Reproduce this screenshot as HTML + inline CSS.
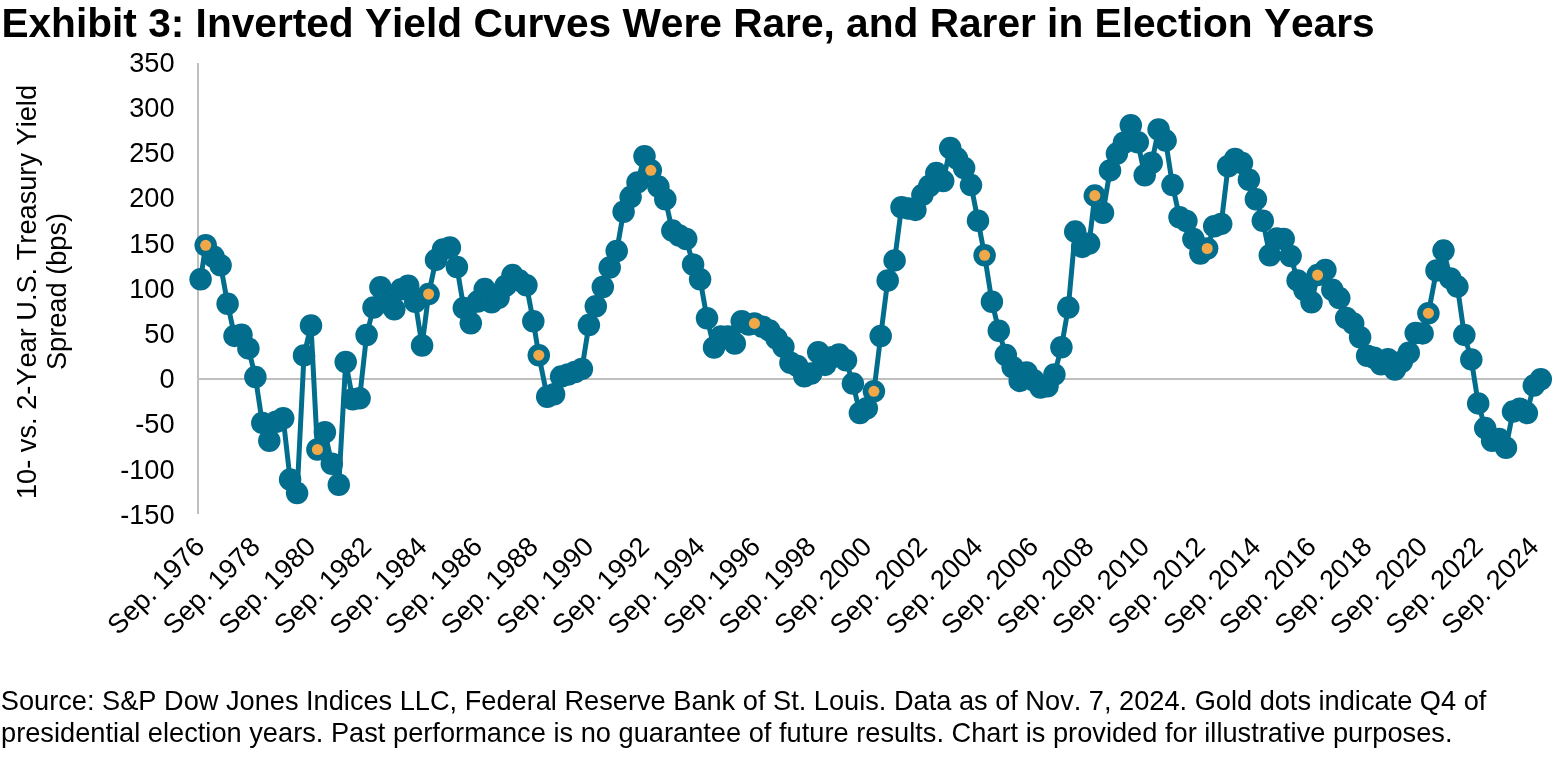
<!DOCTYPE html>
<html lang="en"><head><meta charset="utf-8"><title>Exhibit 3</title>
<style>
html,body{margin:0;padding:0;background:#fff}
body{width:1557px;height:763px;overflow:hidden;font-family:"Liberation Sans",sans-serif;color:#000}
svg{display:block}
svg text{font-family:"Liberation Sans",sans-serif;fill:#000;font-kerning:none}
</style></head><body>
<svg width="1557" height="763" viewBox="0 0 1557 763">
<rect width="1557" height="763" fill="#fff"/>
<text x="1.4" y="37.2" font-size="40.65" font-weight="700">Exhibit 3: Inverted Yield Curves Were Rare, and Rarer in Election Years</text>
<rect x="197" y="63" width="2" height="451" fill="#BEC0BE"/>
<rect x="197" y="378" width="1343" height="2" fill="#BEC0BE"/>
<text x="174.6" y="71.8" font-size="27.2" text-anchor="end">350</text>
<text x="174.6" y="117.0" font-size="27.2" text-anchor="end">300</text>
<text x="174.6" y="162.2" font-size="27.2" text-anchor="end">250</text>
<text x="174.6" y="207.4" font-size="27.2" text-anchor="end">200</text>
<text x="174.6" y="252.6" font-size="27.2" text-anchor="end">150</text>
<text x="174.6" y="297.8" font-size="27.2" text-anchor="end">100</text>
<text x="174.6" y="342.9" font-size="27.2" text-anchor="end">50</text>
<text x="174.6" y="388.1" font-size="27.2" text-anchor="end">0</text>
<text x="174.6" y="433.3" font-size="27.2" text-anchor="end">-50</text>
<text x="174.6" y="478.5" font-size="27.2" text-anchor="end">-100</text>
<text x="174.6" y="523.7" font-size="27.2" text-anchor="end">-150</text>
<text transform="translate(36,292) rotate(-90)" font-size="27.2" text-anchor="middle">10- vs. 2-Year U.S. Treasury Yield</text>
<text transform="translate(65.7,291.5) rotate(-90)" font-size="27.2" text-anchor="middle">Spread (bps)</text>
<text transform="translate(206.1,548.4) rotate(-45)" font-size="27.2" text-anchor="end">Sep. 1976</text>
<text transform="translate(261.7,548.4) rotate(-45)" font-size="27.2" text-anchor="end">Sep. 1978</text>
<text transform="translate(317.3,548.4) rotate(-45)" font-size="27.2" text-anchor="end">Sep. 1980</text>
<text transform="translate(372.9,548.4) rotate(-45)" font-size="27.2" text-anchor="end">Sep. 1982</text>
<text transform="translate(428.4,548.4) rotate(-45)" font-size="27.2" text-anchor="end">Sep. 1984</text>
<text transform="translate(484.0,548.4) rotate(-45)" font-size="27.2" text-anchor="end">Sep. 1986</text>
<text transform="translate(539.6,548.4) rotate(-45)" font-size="27.2" text-anchor="end">Sep. 1988</text>
<text transform="translate(595.2,548.4) rotate(-45)" font-size="27.2" text-anchor="end">Sep. 1990</text>
<text transform="translate(650.8,548.4) rotate(-45)" font-size="27.2" text-anchor="end">Sep. 1992</text>
<text transform="translate(706.4,548.4) rotate(-45)" font-size="27.2" text-anchor="end">Sep. 1994</text>
<text transform="translate(761.9,548.4) rotate(-45)" font-size="27.2" text-anchor="end">Sep. 1996</text>
<text transform="translate(817.5,548.4) rotate(-45)" font-size="27.2" text-anchor="end">Sep. 1998</text>
<text transform="translate(873.1,548.4) rotate(-45)" font-size="27.2" text-anchor="end">Sep. 2000</text>
<text transform="translate(928.7,548.4) rotate(-45)" font-size="27.2" text-anchor="end">Sep. 2002</text>
<text transform="translate(984.3,548.4) rotate(-45)" font-size="27.2" text-anchor="end">Sep. 2004</text>
<text transform="translate(1039.9,548.4) rotate(-45)" font-size="27.2" text-anchor="end">Sep. 2006</text>
<text transform="translate(1095.4,548.4) rotate(-45)" font-size="27.2" text-anchor="end">Sep. 2008</text>
<text transform="translate(1151.0,548.4) rotate(-45)" font-size="27.2" text-anchor="end">Sep. 2010</text>
<text transform="translate(1206.6,548.4) rotate(-45)" font-size="27.2" text-anchor="end">Sep. 2012</text>
<text transform="translate(1262.2,548.4) rotate(-45)" font-size="27.2" text-anchor="end">Sep. 2014</text>
<text transform="translate(1317.8,548.4) rotate(-45)" font-size="27.2" text-anchor="end">Sep. 2016</text>
<text transform="translate(1373.4,548.4) rotate(-45)" font-size="27.2" text-anchor="end">Sep. 2018</text>
<text transform="translate(1428.9,548.4) rotate(-45)" font-size="27.2" text-anchor="end">Sep. 2020</text>
<text transform="translate(1484.5,548.4) rotate(-45)" font-size="27.2" text-anchor="end">Sep. 2022</text>
<text transform="translate(1540.1,548.4) rotate(-45)" font-size="27.2" text-anchor="end">Sep. 2024</text>
<polyline points="200.6,279.3 205.7,245.3 213.7,256.8 220.6,265.2 227.6,303.8 234.5,335.9 241.5,334.8 248.4,348.4 255.4,377.0 262.3,422.9 269.3,440.7 276.2,421.8 283.2,418.3 290.1,479.5 297.1,493.1 304.0,355.4 311.0,325.4 317.4,449.5 324.9,432.3 331.8,463.8 338.8,484.7 345.7,362.0 352.7,399.2 359.6,398.2 366.6,335.0 373.5,307.5 380.4,287.2 387.4,302.9 394.3,309.2 401.3,289.3 408.2,285.7 415.2,301.8 422.1,345.5 428.6,294.1 436.0,259.9 443.0,249.4 449.9,247.5 456.9,267.0 463.8,308.0 470.8,323.2 477.7,301.6 484.7,289.1 491.6,302.3 498.6,297.7 505.5,285.9 512.5,275.1 519.4,280.6 526.4,285.2 533.3,321.3 538.8,355.2 547.2,396.7 554.1,394.3 561.1,376.6 568.0,374.5 575.0,372.1 581.9,368.9 588.9,325.1 595.8,306.2 602.8,287.0 609.7,267.5 616.7,251.0 623.6,211.8 630.6,197.1 637.5,182.4 644.5,156.2 650.8,170.3 658.4,186.6 665.3,199.2 672.3,230.6 679.2,235.5 686.2,239.0 693.1,264.5 700.1,279.3 707.0,318.2 714.0,347.5 720.9,336.5 727.8,336.5 734.8,343.5 741.7,321.3 748.7,324.5 754.4,323.4 762.6,326.7 769.5,330.6 776.5,338.5 783.4,346.7 790.4,362.7 797.3,365.9 804.3,376.2 811.2,373.5 818.2,352.2 825.1,364.9 832.1,357.3 839.0,354.6 846.0,360.3 852.9,383.6 859.9,413.0 866.8,408.3 873.9,391.3 880.7,336.0 887.7,280.5 894.6,260.4 901.5,207.3 908.5,208.6 915.4,209.9 922.4,194.9 929.3,186.0 936.3,173.1 943.2,181.0 950.2,148.0 957.1,158.6 964.1,168.0 971.0,185.1 978.0,220.8 984.6,255.3 991.9,301.7 998.8,330.7 1005.8,355.0 1012.7,367.2 1019.7,380.9 1026.6,372.4 1033.6,380.3 1040.5,387.5 1047.5,386.2 1054.4,374.5 1061.4,347.2 1068.3,307.6 1075.2,231.6 1082.2,246.9 1089.1,243.6 1094.8,195.6 1103.0,212.8 1110.0,170.4 1116.9,153.6 1123.9,142.7 1130.8,125.3 1137.8,142.3 1144.7,175.2 1151.7,162.7 1158.6,129.5 1165.6,140.6 1172.5,185.1 1179.5,217.2 1186.4,221.0 1193.4,239.0 1200.3,253.5 1207.2,248.5 1214.2,226.3 1221.2,223.9 1228.1,166.2 1235.1,158.9 1242.0,163.1 1248.9,179.8 1255.9,199.3 1262.8,220.7 1269.8,255.3 1276.7,238.5 1283.7,239.0 1290.6,256.0 1297.6,280.4 1304.5,290.0 1311.5,302.3 1317.6,275.1 1325.4,269.9 1332.3,289.8 1339.3,298.1 1346.2,318.0 1353.2,323.5 1360.1,337.2 1367.1,355.7 1374.0,357.8 1381.0,364.2 1387.9,359.3 1394.9,369.5 1401.8,361.8 1408.8,352.8 1415.7,333.0 1422.6,333.4 1428.4,313.2 1436.5,270.5 1443.5,250.6 1450.4,278.4 1457.4,286.6 1464.3,334.9 1471.3,359.4 1478.2,403.4 1485.2,428.1 1492.1,440.7 1499.1,439.1 1506.0,447.7 1513.0,411.6 1519.9,408.8 1526.9,413.1 1533.8,385.6 1540.8,379.3" fill="none" stroke="#026D8C" stroke-width="5" stroke-linejoin="round" stroke-linecap="round"/>
<g fill="#026D8C">
<circle cx="200.6" cy="279.3" r="11.25"/><circle cx="205.7" cy="245.3" r="11.25"/><circle cx="213.7" cy="256.8" r="11.25"/><circle cx="220.6" cy="265.2" r="11.25"/><circle cx="227.6" cy="303.8" r="11.25"/><circle cx="234.5" cy="335.9" r="11.25"/><circle cx="241.5" cy="334.8" r="11.25"/><circle cx="248.4" cy="348.4" r="11.25"/><circle cx="255.4" cy="377.0" r="11.25"/><circle cx="262.3" cy="422.9" r="11.25"/><circle cx="269.3" cy="440.7" r="11.25"/><circle cx="276.2" cy="421.8" r="11.25"/><circle cx="283.2" cy="418.3" r="11.25"/><circle cx="290.1" cy="479.5" r="11.25"/><circle cx="297.1" cy="493.1" r="11.25"/><circle cx="304.0" cy="355.4" r="11.25"/><circle cx="311.0" cy="325.4" r="11.25"/><circle cx="317.4" cy="449.5" r="11.25"/><circle cx="324.9" cy="432.3" r="11.25"/><circle cx="331.8" cy="463.8" r="11.25"/><circle cx="338.8" cy="484.7" r="11.25"/><circle cx="345.7" cy="362.0" r="11.25"/><circle cx="352.7" cy="399.2" r="11.25"/><circle cx="359.6" cy="398.2" r="11.25"/><circle cx="366.6" cy="335.0" r="11.25"/><circle cx="373.5" cy="307.5" r="11.25"/><circle cx="380.4" cy="287.2" r="11.25"/><circle cx="387.4" cy="302.9" r="11.25"/><circle cx="394.3" cy="309.2" r="11.25"/><circle cx="401.3" cy="289.3" r="11.25"/><circle cx="408.2" cy="285.7" r="11.25"/><circle cx="415.2" cy="301.8" r="11.25"/><circle cx="422.1" cy="345.5" r="11.25"/><circle cx="428.6" cy="294.1" r="11.25"/><circle cx="436.0" cy="259.9" r="11.25"/><circle cx="443.0" cy="249.4" r="11.25"/><circle cx="449.9" cy="247.5" r="11.25"/><circle cx="456.9" cy="267.0" r="11.25"/><circle cx="463.8" cy="308.0" r="11.25"/><circle cx="470.8" cy="323.2" r="11.25"/><circle cx="477.7" cy="301.6" r="11.25"/><circle cx="484.7" cy="289.1" r="11.25"/><circle cx="491.6" cy="302.3" r="11.25"/><circle cx="498.6" cy="297.7" r="11.25"/><circle cx="505.5" cy="285.9" r="11.25"/><circle cx="512.5" cy="275.1" r="11.25"/><circle cx="519.4" cy="280.6" r="11.25"/><circle cx="526.4" cy="285.2" r="11.25"/><circle cx="533.3" cy="321.3" r="11.25"/><circle cx="538.8" cy="355.2" r="11.25"/><circle cx="547.2" cy="396.7" r="11.25"/><circle cx="554.1" cy="394.3" r="11.25"/><circle cx="561.1" cy="376.6" r="11.25"/><circle cx="568.0" cy="374.5" r="11.25"/><circle cx="575.0" cy="372.1" r="11.25"/><circle cx="581.9" cy="368.9" r="11.25"/><circle cx="588.9" cy="325.1" r="11.25"/><circle cx="595.8" cy="306.2" r="11.25"/><circle cx="602.8" cy="287.0" r="11.25"/><circle cx="609.7" cy="267.5" r="11.25"/><circle cx="616.7" cy="251.0" r="11.25"/><circle cx="623.6" cy="211.8" r="11.25"/><circle cx="630.6" cy="197.1" r="11.25"/><circle cx="637.5" cy="182.4" r="11.25"/><circle cx="644.5" cy="156.2" r="11.25"/><circle cx="650.8" cy="170.3" r="11.25"/><circle cx="658.4" cy="186.6" r="11.25"/><circle cx="665.3" cy="199.2" r="11.25"/><circle cx="672.3" cy="230.6" r="11.25"/><circle cx="679.2" cy="235.5" r="11.25"/><circle cx="686.2" cy="239.0" r="11.25"/><circle cx="693.1" cy="264.5" r="11.25"/><circle cx="700.1" cy="279.3" r="11.25"/><circle cx="707.0" cy="318.2" r="11.25"/><circle cx="714.0" cy="347.5" r="11.25"/><circle cx="720.9" cy="336.5" r="11.25"/><circle cx="727.8" cy="336.5" r="11.25"/><circle cx="734.8" cy="343.5" r="11.25"/><circle cx="741.7" cy="321.3" r="11.25"/><circle cx="748.7" cy="324.5" r="11.25"/><circle cx="754.4" cy="323.4" r="11.25"/><circle cx="762.6" cy="326.7" r="11.25"/><circle cx="769.5" cy="330.6" r="11.25"/><circle cx="776.5" cy="338.5" r="11.25"/><circle cx="783.4" cy="346.7" r="11.25"/><circle cx="790.4" cy="362.7" r="11.25"/><circle cx="797.3" cy="365.9" r="11.25"/><circle cx="804.3" cy="376.2" r="11.25"/><circle cx="811.2" cy="373.5" r="11.25"/><circle cx="818.2" cy="352.2" r="11.25"/><circle cx="825.1" cy="364.9" r="11.25"/><circle cx="832.1" cy="357.3" r="11.25"/><circle cx="839.0" cy="354.6" r="11.25"/><circle cx="846.0" cy="360.3" r="11.25"/><circle cx="852.9" cy="383.6" r="11.25"/><circle cx="859.9" cy="413.0" r="11.25"/><circle cx="866.8" cy="408.3" r="11.25"/><circle cx="873.9" cy="391.3" r="11.25"/><circle cx="880.7" cy="336.0" r="11.25"/><circle cx="887.7" cy="280.5" r="11.25"/><circle cx="894.6" cy="260.4" r="11.25"/><circle cx="901.5" cy="207.3" r="11.25"/><circle cx="908.5" cy="208.6" r="11.25"/><circle cx="915.4" cy="209.9" r="11.25"/><circle cx="922.4" cy="194.9" r="11.25"/><circle cx="929.3" cy="186.0" r="11.25"/><circle cx="936.3" cy="173.1" r="11.25"/><circle cx="943.2" cy="181.0" r="11.25"/><circle cx="950.2" cy="148.0" r="11.25"/><circle cx="957.1" cy="158.6" r="11.25"/><circle cx="964.1" cy="168.0" r="11.25"/><circle cx="971.0" cy="185.1" r="11.25"/><circle cx="978.0" cy="220.8" r="11.25"/><circle cx="984.6" cy="255.3" r="11.25"/><circle cx="991.9" cy="301.7" r="11.25"/><circle cx="998.8" cy="330.7" r="11.25"/><circle cx="1005.8" cy="355.0" r="11.25"/><circle cx="1012.7" cy="367.2" r="11.25"/><circle cx="1019.7" cy="380.9" r="11.25"/><circle cx="1026.6" cy="372.4" r="11.25"/><circle cx="1033.6" cy="380.3" r="11.25"/><circle cx="1040.5" cy="387.5" r="11.25"/><circle cx="1047.5" cy="386.2" r="11.25"/><circle cx="1054.4" cy="374.5" r="11.25"/><circle cx="1061.4" cy="347.2" r="11.25"/><circle cx="1068.3" cy="307.6" r="11.25"/><circle cx="1075.2" cy="231.6" r="11.25"/><circle cx="1082.2" cy="246.9" r="11.25"/><circle cx="1089.1" cy="243.6" r="11.25"/><circle cx="1094.8" cy="195.6" r="11.25"/><circle cx="1103.0" cy="212.8" r="11.25"/><circle cx="1110.0" cy="170.4" r="11.25"/><circle cx="1116.9" cy="153.6" r="11.25"/><circle cx="1123.9" cy="142.7" r="11.25"/><circle cx="1130.8" cy="125.3" r="11.25"/><circle cx="1137.8" cy="142.3" r="11.25"/><circle cx="1144.7" cy="175.2" r="11.25"/><circle cx="1151.7" cy="162.7" r="11.25"/><circle cx="1158.6" cy="129.5" r="11.25"/><circle cx="1165.6" cy="140.6" r="11.25"/><circle cx="1172.5" cy="185.1" r="11.25"/><circle cx="1179.5" cy="217.2" r="11.25"/><circle cx="1186.4" cy="221.0" r="11.25"/><circle cx="1193.4" cy="239.0" r="11.25"/><circle cx="1200.3" cy="253.5" r="11.25"/><circle cx="1207.2" cy="248.5" r="11.25"/><circle cx="1214.2" cy="226.3" r="11.25"/><circle cx="1221.2" cy="223.9" r="11.25"/><circle cx="1228.1" cy="166.2" r="11.25"/><circle cx="1235.1" cy="158.9" r="11.25"/><circle cx="1242.0" cy="163.1" r="11.25"/><circle cx="1248.9" cy="179.8" r="11.25"/><circle cx="1255.9" cy="199.3" r="11.25"/><circle cx="1262.8" cy="220.7" r="11.25"/><circle cx="1269.8" cy="255.3" r="11.25"/><circle cx="1276.7" cy="238.5" r="11.25"/><circle cx="1283.7" cy="239.0" r="11.25"/><circle cx="1290.6" cy="256.0" r="11.25"/><circle cx="1297.6" cy="280.4" r="11.25"/><circle cx="1304.5" cy="290.0" r="11.25"/><circle cx="1311.5" cy="302.3" r="11.25"/><circle cx="1317.6" cy="275.1" r="11.25"/><circle cx="1325.4" cy="269.9" r="11.25"/><circle cx="1332.3" cy="289.8" r="11.25"/><circle cx="1339.3" cy="298.1" r="11.25"/><circle cx="1346.2" cy="318.0" r="11.25"/><circle cx="1353.2" cy="323.5" r="11.25"/><circle cx="1360.1" cy="337.2" r="11.25"/><circle cx="1367.1" cy="355.7" r="11.25"/><circle cx="1374.0" cy="357.8" r="11.25"/><circle cx="1381.0" cy="364.2" r="11.25"/><circle cx="1387.9" cy="359.3" r="11.25"/><circle cx="1394.9" cy="369.5" r="11.25"/><circle cx="1401.8" cy="361.8" r="11.25"/><circle cx="1408.8" cy="352.8" r="11.25"/><circle cx="1415.7" cy="333.0" r="11.25"/><circle cx="1422.6" cy="333.4" r="11.25"/><circle cx="1428.4" cy="313.2" r="11.25"/><circle cx="1436.5" cy="270.5" r="11.25"/><circle cx="1443.5" cy="250.6" r="11.25"/><circle cx="1450.4" cy="278.4" r="11.25"/><circle cx="1457.4" cy="286.6" r="11.25"/><circle cx="1464.3" cy="334.9" r="11.25"/><circle cx="1471.3" cy="359.4" r="11.25"/><circle cx="1478.2" cy="403.4" r="11.25"/><circle cx="1485.2" cy="428.1" r="11.25"/><circle cx="1492.1" cy="440.7" r="11.25"/><circle cx="1499.1" cy="439.1" r="11.25"/><circle cx="1506.0" cy="447.7" r="11.25"/><circle cx="1513.0" cy="411.6" r="11.25"/><circle cx="1519.9" cy="408.8" r="11.25"/><circle cx="1526.9" cy="413.1" r="11.25"/><circle cx="1533.8" cy="385.6" r="11.25"/><circle cx="1540.8" cy="379.3" r="11.25"/>
</g>
<g fill="#F0A848">
<circle cx="205.7" cy="245.3" r="5.55"/><circle cx="317.4" cy="449.5" r="5.55"/><circle cx="428.6" cy="294.1" r="5.55"/><circle cx="538.8" cy="355.2" r="5.55"/><circle cx="650.8" cy="170.3" r="5.55"/><circle cx="754.4" cy="323.4" r="5.55"/><circle cx="873.9" cy="391.3" r="5.55"/><circle cx="984.6" cy="255.3" r="5.55"/><circle cx="1094.8" cy="195.6" r="5.55"/><circle cx="1207.2" cy="248.5" r="5.55"/><circle cx="1317.6" cy="275.1" r="5.55"/><circle cx="1428.4" cy="313.2" r="5.55"/>
</g>
<text x="0.8" y="709.5" font-size="27.2">Source: S&amp;P Dow Jones Indices LLC, Federal Reserve Bank of St. Louis. Data as of Nov. 7, 2024. Gold dots indicate Q4 of</text>
<text x="1.0" y="741.7" font-size="27.2" textLength="1451.5" lengthAdjust="spacing">presidential election years. Past performance is no guarantee of future results. Chart is provided for illustrative purposes.</text>
</svg>
</body></html>
